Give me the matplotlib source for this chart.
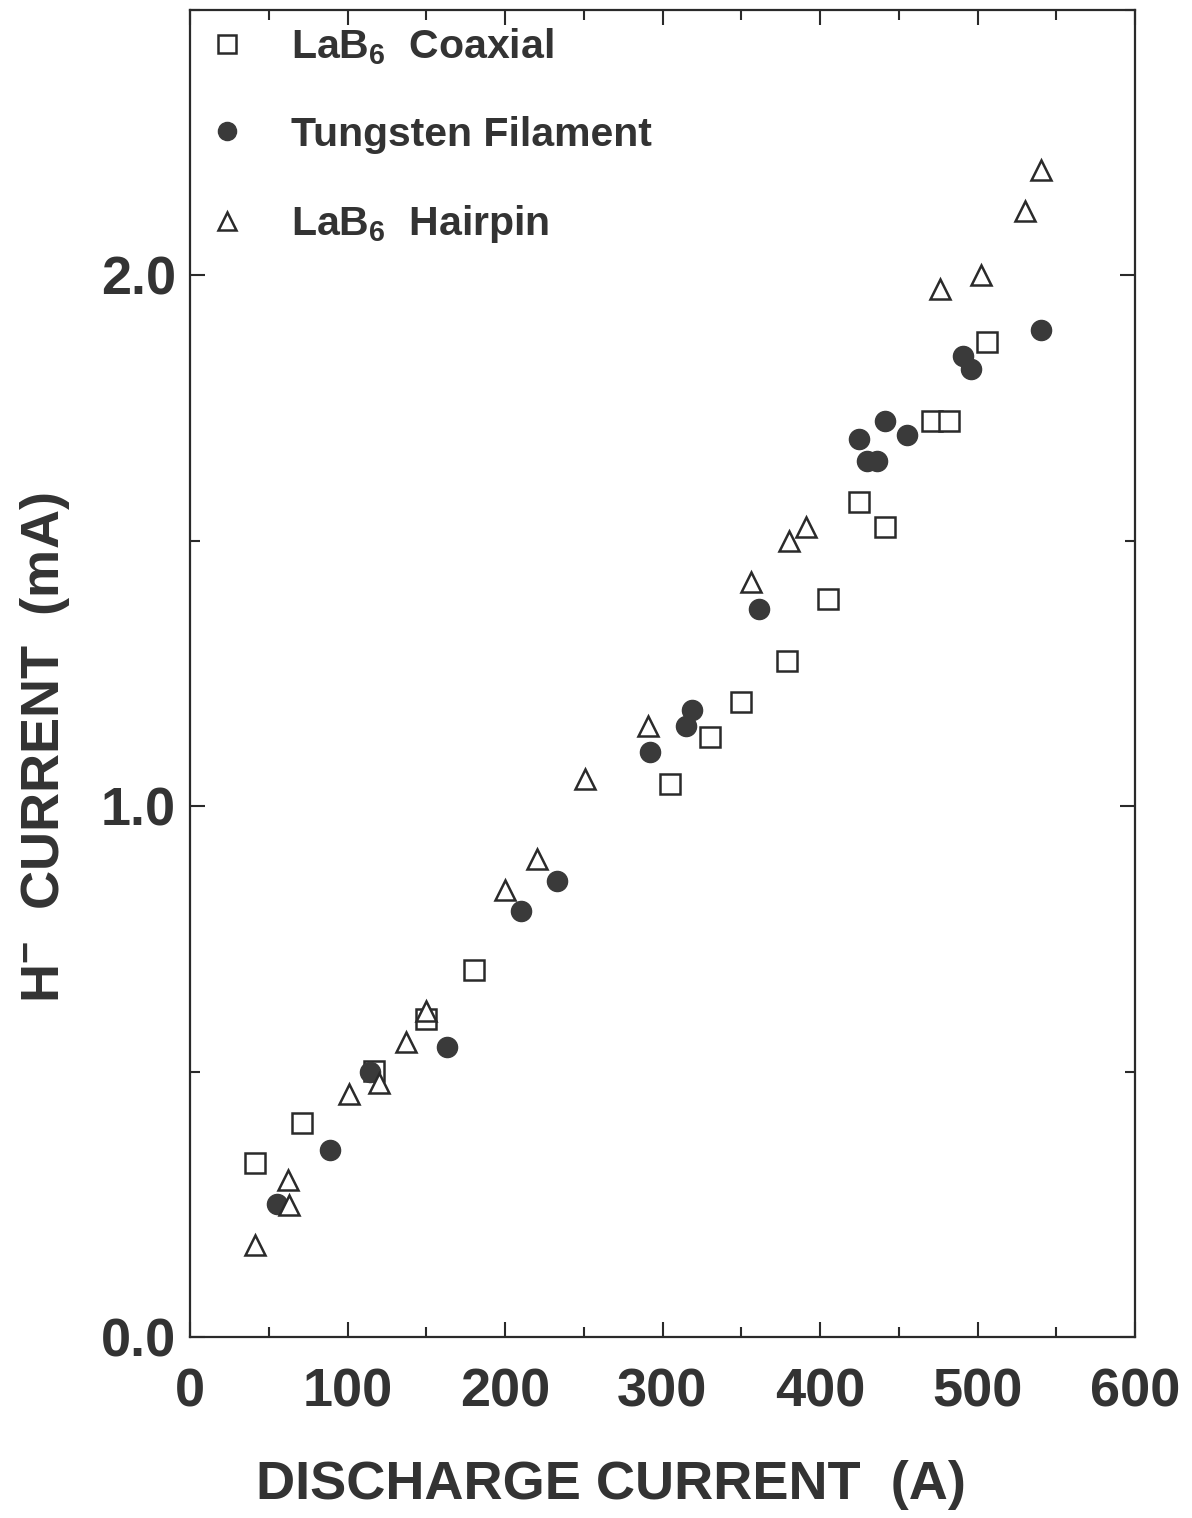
import matplotlib
matplotlib.use('Agg')
from matplotlib import pyplot as plt  # noqa
from matplotlib.ticker import MultipleLocator

# LaB6 coaxial cathode (squares)
coax_x = [41, 71, 117, 150, 180, 305, 330, 350, 379, 405, 425, 441, 471, 482, 506]
coax_y = [0.328, 0.404, 0.502, 0.600, 0.691, 1.042, 1.130, 1.196, 1.274,
          1.391, 1.574, 1.526, 1.725, 1.725, 1.874]

# tungsten filament (filled circles)
tung_x = [55, 89, 114, 163, 210, 233, 292, 315, 319, 361, 425, 430, 436,
          441, 455, 491, 496, 540]
tung_y = [0.251, 0.353, 0.500, 0.547, 0.802, 0.860, 1.102, 1.151, 1.181,
          1.372, 1.692, 1.651, 1.651, 1.726, 1.700, 1.849, 1.823, 1.898]

# LaB6 hairpin cathode (triangles)
hair_x = [41, 62, 63, 101, 120, 137, 150, 200, 220, 251, 291, 356, 380, 391,
          476, 502, 530, 540]
hair_y = [0.174, 0.296, 0.249, 0.458, 0.479, 0.555, 0.615, 0.842, 0.900,
          1.051, 1.151, 1.423, 1.500, 1.526, 1.975, 2.000, 2.121, 2.198]

x_ticks = [0, 100, 200, 300, 400, 500, 600]
y_ticks = [0.0, 1.0, 2.0]

INK = '#2a2a2a'
plt.rcParams['font.family'] = ['Liberation Sans', 'DejaVu Sans']
plt.rcParams['font.weight'] = 'bold'
plt.rcParams['axes.labelweight'] = 'bold'
plt.rcParams['mathtext.default'] = 'regular'

fig = plt.figure(figsize=(11.92, 15.18), dpi=100)
ax = fig.add_axes([190 / 1192, 1 - 1337 / 1518, 945 / 1192, 1327 / 1518])

ax.plot(coax_x, coax_y, 's', ms=14, mfc='white', mec=INK, mew=1.8,
        linestyle='none', label='LaB$_6$  Coaxial')
ax.plot(tung_x, tung_y, 'o', ms=14.5, mfc='#3a3a3a', mec='#3a3a3a', mew=1.0,
        linestyle='none', label='Tungsten Filament')
ax.plot(hair_x, hair_y, '^', ms=14, mfc='white', mec=INK, mew=1.8,
        linestyle='none', label='LaB$_6$  Hairpin')

ax.set_xlim(0, 600)
ax.set_ylim(0, 2.5)
ax.set_xticks(x_ticks)
ax.set_yticks(y_ticks)
ax.set_yticklabels(['{:.1f}'.format(v) for v in y_ticks])
ax.xaxis.set_minor_locator(MultipleLocator(50))
ax.yaxis.set_minor_locator(MultipleLocator(0.5))
ax.tick_params(which='both', direction='in', top=True, right=True,
               color=INK, width=1.5, labelcolor='#333333')
ax.tick_params(which='major', length=11, labelsize=39)
ax.tick_params(which='minor', length=7)
ax.tick_params(axis='x', which='major', pad=22)
ax.tick_params(axis='y', which='major', pad=10)
for s in ax.spines.values():
    s.set_linewidth(1.6)
    s.set_color(INK)

ax.set_xlabel('DISCHARGE CURRENT  (A)', fontsize=39, color='#333333')
ax.xaxis.set_label_coords((611 - 190) / 945, -0.093)
ax.set_ylabel('H$^{-}$  CURRENT  (mA)', fontsize=39, color='#333333')
ax.yaxis.set_label_coords(-0.125, 0.444)

ax.legend(loc='upper left', bbox_to_anchor=(0.018, 0.988), frameon=False,
          fontsize=29.5, markerscale=0.9, handlelength=1.0, handletextpad=1.05,
          labelspacing=1.2, borderpad=0, borderaxespad=0, labelcolor='#333333')

fig.savefig('out.png', dpi=100)
